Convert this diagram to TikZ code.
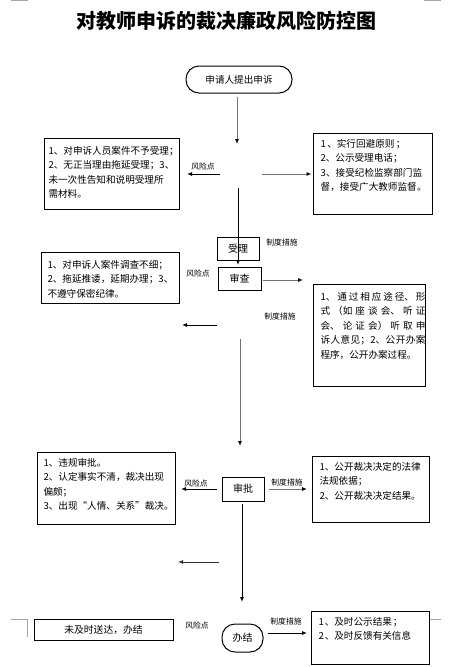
\documentclass[tikz,border=0pt]{standalone}
\usepackage{fontspec}
\setmainfont{Noto Sans CJK SC}
\usetikzlibrary{arrows.meta}
\XeTeXlinebreaklocale "zh"
\XeTeXlinebreakskip=0pt plus 6pt
\newcommand\bxt[5]{\hspace*{#1}\parbox[t][#3][t]{#2}{\tolerance=9999\rule{0pt}{#4}#5}}
\begin{document}
\begin{tikzpicture}[x=1pt,y=-1pt,
  box/.style={draw, line width=1pt, inner sep=0pt, anchor=north west, font=\fontsize{9.6}{14.6}\selectfont},
  stepbox/.style={draw, line width=1pt, inner sep=0pt, font=\fontsize{10}{12}\selectfont},
  lbl/.style={inner sep=0pt, font=\fontsize{7.8}{9}\selectfont},
  arr/.style={line width=0.9pt, black, -{Latex[length=5pt,width=4pt]}},
  garr/.style={line width=1pt, black!55, -{Latex[length=5pt,width=4pt,color=black]}},
  crop/.style={line width=0.9pt, black!35}]
\useasboundingbox[fill=white] (0,0) rectangle (460,667);
% crop marks
\draw[crop] (11,0.5) -- (28,0.5);
\draw[crop] (424,0.5) -- (441,0.5);
\draw[crop] (11,619) -- (27,619) -- (27,637);
\draw[crop] (430,619) -- (441,619);
% title
\node (title) at (226,21) {\fontsize{20}{24}\selectfont\bfseries 对教师申诉的裁决廉政风险防控图};
% start
\node[stepbox, rounded corners=13pt, minimum width=106pt, minimum height=27pt,
      font=\fontsize{9.6}{12}\selectfont] (start) at (239,79.5) {申请人提出申诉};
% step boxes
\node[stepbox, minimum width=42pt, minimum height=23pt] (sl) at (238,248.5) {受理};
\node[stepbox, minimum width=43pt, minimum height=23pt] (sc) at (239.5,278.5) {审查};
\node[stepbox, minimum width=42pt, minimum height=24pt] (sp) at (243,489) {审批};
\node[stepbox, rounded corners=13pt, minimum width=41pt, minimum height=28pt] (bj) at (242.5,638) {办结};
% left boxes
\node[box] (l1) at (44,138) {\bxt{4pt}{131pt}{71pt}{15.6pt}{1、对申诉人员案件不予受理；\\2、无正当理由拖延受理；3、\\未一次性告知和说明受理所\\需材料。}};
\node[box] (l2) at (41,252) {\bxt{6pt}{132pt}{51pt}{15.6pt}{1、对申诉人案件调查不细；\\2、拖延推诿，延期办理；3、\\不遵守保密纪律。}};
\node[box] (l3) at (37,452) {\bxt{6pt}{132pt}{72pt}{13.6pt}{1、违规审批。\\2、认定事实不清，裁决出现\\偏颇；\\3、出现“人情、关系”裁决。}};
\node[stepbox, font=\fontsize{9.8}{12}\selectfont, minimum width=139pt, minimum height=21pt] (l4) at (103.5,629.5) {未及时送达，办结};
% right boxes
\node[box] (r1) at (313,133) {\bxt{7pt}{112pt}{81pt}{13.6pt}{{\addfontfeature{LetterSpace=15}1、实行回避原则；}\\2、公示受理电话；\\{\addfontfeature{LetterSpace=3}3、接受纪检监察部门监}\\{\addfontfeature{LetterSpace=3}督，接受广大教师监督。}}};
\node[box] (r2) at (313,284) {\bxt{7pt}{105pt}{102pt}{15.6pt}{1、通过相应途径、形\linebreak 式（如座谈会、听证\linebreak 会、论证会）听取申\linebreak 诉人意见；2、公开办案\linebreak 程序，公开办案过程。}};
\node[box] (r3) at (312,456) {\bxt{7pt}{110pt}{66pt}{13.6pt}{1、公开裁决决定的法律\\法规依据；\\2、公开裁决决定结果。}};
\node[box] (r4) at (311,611) {\bxt{7pt}{111pt}{53pt}{13.6pt}{{\addfontfeature{LetterSpace=10}1、及时公示结果；}\\{\addfontfeature{LetterSpace=10}2、及时反馈有关信息}}};
% labels
\node[lbl] (k1) at (203,167) {风险点};
\node[lbl] (m1) at (282,243) {制度措施};
\node[lbl] (k2) at (198,274) {风险点};
\node[lbl] (m2) at (280,317) {制度措施};
\node[lbl] (k3) at (196,484) {风险点};
\node[lbl] (m3) at (287,483) {制度措施};
\node[lbl] (k4) at (197,626) {风险点};
\node[lbl] (m4) at (286,622) {制度措施};
% coordinates
\coordinate (p1) at (237,144);
\coordinate (b1l) at (220,174);
\coordinate (b1le) at (187,174);
\coordinate (b1r) at (262,174);
\coordinate (b1d) at (238,188);
\coordinate (c2r) at (303,280);
\coordinate (c2l) at (217,325);
\coordinate (c2le) at (182,325);
\coordinate (c2d) at (240,339);
\coordinate (c2de) at (240,446);
\coordinate (d3e) at (242,602);
\coordinate (c3l) at (219,562);
\coordinate (c3le) at (178,562);
\coordinate (a4) at (0,633);
% connectors
\draw[garr, shorten <=3pt] (start.south -| p1) -- (p1);
\draw[arr] (b1l) -- (b1le);
\draw[garr, shorten >=1.5pt] (b1r) -- (b1r -| r1.west);
\draw[arr, shorten >=1.5pt] (b1d) -- (b1d |- sc.north);
\draw[garr, shorten <=1pt] (sc.east |- c2r) -- (c2r);
\draw[arr] (c2l) -- (c2le);
\draw[garr] (c2d) -- (c2de);
\draw[arr, shorten <=5pt, shorten >=5pt] (sp.west) -- (sp.west -| l3.east);
\draw[garr, line width=0.9pt, shorten <=4pt, shorten >=5pt] (sp.east) -- (sp.east -| r3.west);
\draw[arr, shorten <=2pt] (sp.south -| d3e) -- (d3e);
\draw[arr, black!80] (c3l) -- (c3le);
\draw[arr, shorten <=4pt, shorten >=4pt] (bj.east |- a4) -- (r4.west |- a4);
\end{tikzpicture}
\end{document}
